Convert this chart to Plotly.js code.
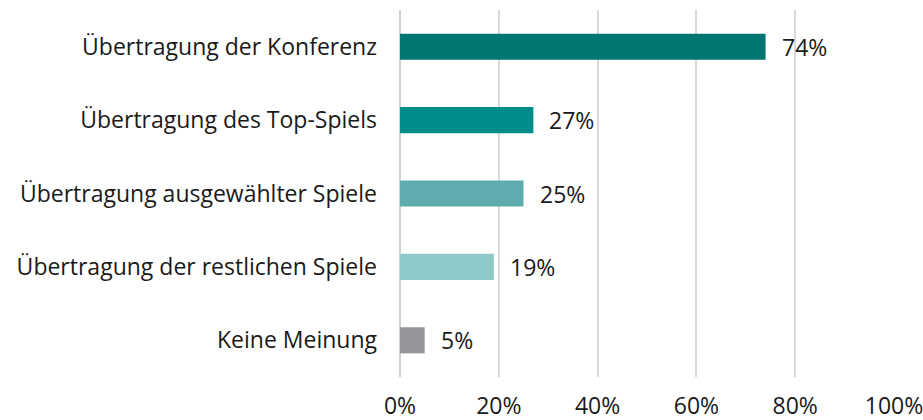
<!DOCTYPE html>
<html><head><meta charset="utf-8">
<script src="https://cdn.plot.ly/plotly-3.0.1.min.js"></script>
<style>html,body{margin:0;padding:0;background:#fff}#chart{width:923px;height:420px}</style>
</head><body><div id="chart"></div>
<script>
const categories = ["Übertragung der Konferenz","Übertragung des Top-Spiels","Übertragung ausgewählter Spiele","Übertragung der restlichen Spiele","Keine Meinung"];
const values = [74, 27, 25, 19, 5];
const barColors = ["#007672","#008C8A","#5FACAE","#8FC9CA","#939598"];
const tickVals = [0,20,40,60,80,100];
const tickText = ["0%","20%","40%","60%","80%","100%"];

const font = "Open Sans, Noto Sans, sans-serif";
const fsz = 23;
const trace = {
  type: "bar", orientation: "h",
  x: values, y: categories,
  marker: {color: barColors},
  width: 0.355,
  hoverinfo: "none"
};
const annotations = values.map((v,i)=>({
  x: v, y: categories[i], xref:"x", yref:"y",
  text: v + "%", showarrow:false, xanchor:"left", xshift:14,
  font:{family:font,size:fsz,color:"#1a1a1a"}
}));
const layout = {
  width: 923, height: 420,
  margin: {l:400, r:29, t:10, b:43},
  paper_bgcolor:"#fff", plot_bgcolor:"#fff",
  showlegend:false,
  font:{family:font,size:fsz,color:"#1a1a1a"},
  xaxis:{range:[0,100], tickvals:tickVals, ticktext:tickText, showgrid:true,
    gridcolor:"#d9d9d9", gridwidth:2, zeroline:true, zerolinecolor:"#d0d0d0", zerolinewidth:2,
    showline:false, ticks:"", ticklabelstandoff:13, ticklabeloverflow:"allow",
    tickfont:{family:font,size:fsz,color:"#1a1a1a"}, fixedrange:true, automargin:false},
  yaxis:{categoryorder:"array", categoryarray:categories, autorange:"reversed",
    showgrid:false, zeroline:false, showline:false, ticks:"", ticklabelstandoff:22,
    tickfont:{family:font,size:fsz,color:"#1a1a1a"}, automargin:false},
  annotations: annotations
};
Plotly.newPlot("chart",[trace],layout,{staticPlot:true});
</script></body></html>
